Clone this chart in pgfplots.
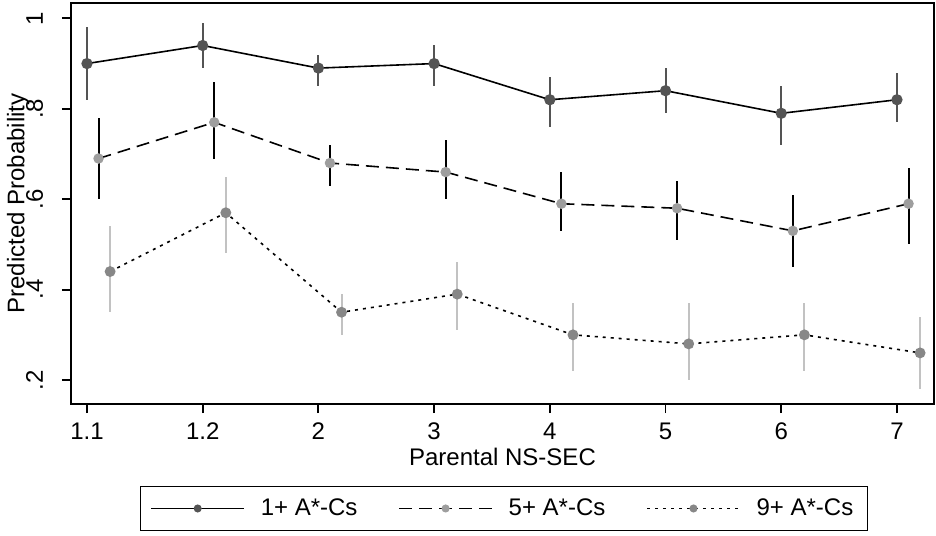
\documentclass[border=0pt]{standalone}
\usepackage{pgfplots}
\pgfplotsset{compat=1.18}
\usepackage{pgfplotstable}
\usepackage{fontspec}
\setmainfont{Liberation Sans}

\definecolor{markA}{gray}{0.33}
\definecolor{barA}{gray}{0.33}
\definecolor{markB}{gray}{0.62}
\definecolor{markC}{gray}{0.53}
\definecolor{barC}{gray}{0.76}

% columns: category position, estimate, lower bound, upper bound
\pgfplotstableread{
x    y     lo    hi
0    0.90  0.82  0.98
1    0.94  0.89  0.99
2    0.89  0.85  0.92
3    0.90  0.85  0.94
4    0.82  0.76  0.87
5    0.84  0.79  0.89
6    0.79  0.72  0.85
7    0.82  0.77  0.88
}\tblA
\pgfplotstableread{
x    y     lo    hi
0.1  0.69  0.60  0.78
1.1  0.77  0.69  0.86
2.1  0.68  0.63  0.72
3.1  0.66  0.60  0.73
4.1  0.59  0.53  0.66
5.1  0.58  0.51  0.64
6.1  0.53  0.45  0.61
7.1  0.59  0.50  0.67
}\tblB
\pgfplotstableread{
x    y     lo    hi
0.2  0.44  0.35  0.54
1.2  0.57  0.48  0.65
2.2  0.35  0.30  0.39
3.2  0.39  0.31  0.46
4.2  0.30  0.22  0.37
5.2  0.28  0.20  0.37
6.2  0.30  0.22  0.37
7.2  0.26  0.18  0.34
}\tblC

\begin{document}
\begin{tikzpicture}
\begin{axis}[
  scale only axis, width=431.5pt, height=200.5pt,
  xmin=-0.138, xmax=7.32, ymin=0.147, ymax=1.034,
  xtick={0,...,7}, xticklabels={1.1,1.2,2,3,4,5,6,7},
  ytick={0.2,0.4,0.6,0.8,1}, yticklabels={.2,.4,.6,.8,1},
  tick align=outside, major tick length=4.5pt,
  xtick pos=bottom, ytick pos=left,
  axis line style={line width=1pt},
  every tick/.style={black, line width=0.9pt},
  font=\fontsize{12}{14}\selectfont,
  yticklabel style={rotate=90, anchor=base},
  xticklabel style={anchor=base},
  xticklabel shift=13pt, yticklabel shift=9.5pt,
  xlabel={Parental NS-SEC}, ylabel={Predicted Probability},
  xlabel style={at={(axis description cs:0.5,-0.1546)}, anchor=base},
  ylabel style={at={(axis description cs:-0.0539,0.5)}, anchor=base},
  legend columns=3,
  legend style={at={(0.5017,-0.2045)}, anchor=north, draw=black, line width=0.6pt,
    font=\fontsize{12}{14}\selectfont, inner xsep=5pt, inner ysep=4pt,
    /tikz/every odd column/.append style={column sep=6pt},
    /tikz/every even column/.append style={column sep=18.5pt}},
  legend image code/.code={\draw[mark repeat=2,mark phase=2,#1,
      line width=0.6pt, mark size=1.7pt]
    plot coordinates {(0pt,0pt) (23.25pt,0pt) (46.5pt,0pt)};},
]
\addplot[black, line width=0.8pt, mark=*, mark size=2.4pt,
  mark options={solid, fill=markA, draw=markA},
  error bars/.cd, y dir=both, y explicit, error mark=none,
  error bar style={barA, line width=1pt, solid}]
  table[x=x, y=y, y error plus expr=\thisrow{hi}-\thisrow{y},
        y error minus expr=\thisrow{y}-\thisrow{lo}] {\tblA};
\addlegendentry{1+ A*-Cs}
\addplot[black, line width=0.8pt, dash pattern=on 6.5pt off 3.5pt,
  mark=*, mark size=2.2pt, mark options={solid, fill=markB, draw=markB},
  error bars/.cd, y dir=both, y explicit, error mark=none,
  error bar style={black, line width=1pt, solid}]
  table[x=x, y=y, y error plus expr=\thisrow{hi}-\thisrow{y},
        y error minus expr=\thisrow{y}-\thisrow{lo}] {\tblB};
\addlegendentry{5+ A*-Cs}
\addplot[black, line width=0.8pt, dash pattern=on 1.5pt off 2.5pt,
  mark=*, mark size=2.3pt, mark options={solid, fill=markC, draw=markC},
  error bars/.cd, y dir=both, y explicit, error mark=none,
  error bar style={barC, line width=1pt, solid}]
  table[x=x, y=y, y error plus expr=\thisrow{hi}-\thisrow{y},
        y error minus expr=\thisrow{y}-\thisrow{lo}] {\tblC};
\addlegendentry{9+ A*-Cs}
\coordinate (sw) at (rel axis cs:0,0);
\coordinate (ne) at (rel axis cs:1,1);
\end{axis}
\pgfresetboundingbox
\path ([xshift=-35.5pt,yshift=-65.5pt]sw) rectangle ([xshift=1pt,yshift=1.5pt]ne);
\end{tikzpicture}
\end{document}
